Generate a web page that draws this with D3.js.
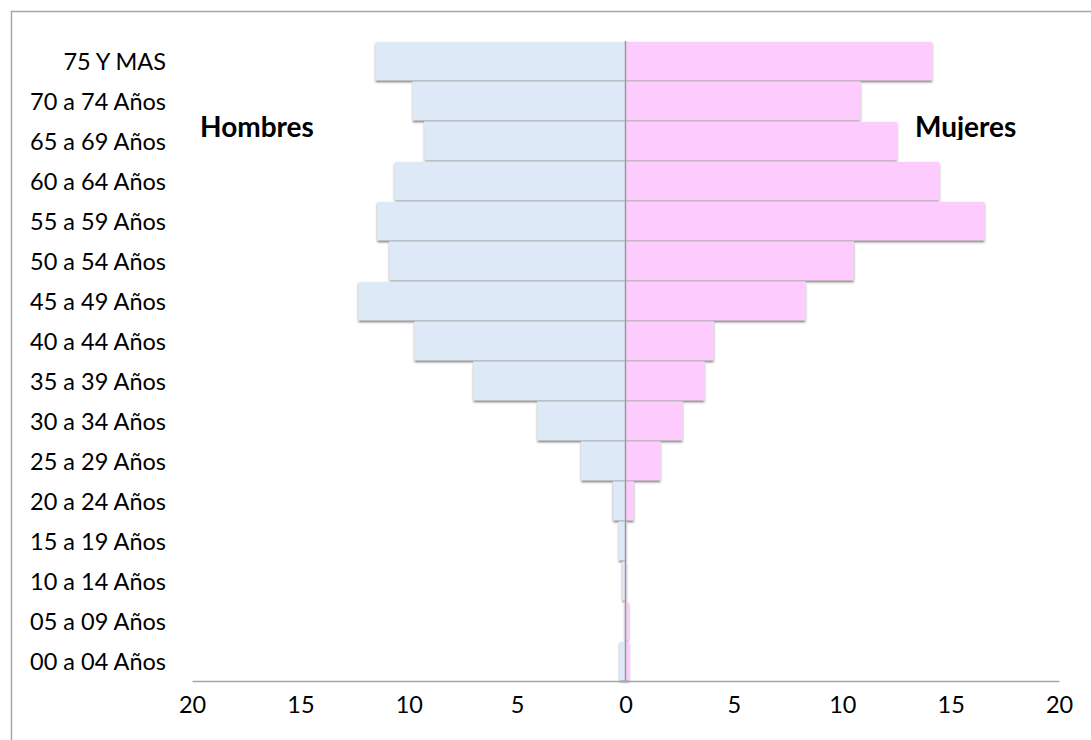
<!DOCTYPE html>
<html>
<head>
<meta charset="utf-8">
<script src="https://cdn.jsdelivr.net/npm/d3@7/dist/d3.min.js"></script>
<style>
  html, body { margin: 0; padding: 0; background: #fff; }
  svg { display: block; }
  text { font-family: Lato, "Open Sans", sans-serif; fill: #000; }
</style>
</head>
<body>
<svg id="chart" width="1091" height="740"></svg>
<script>
const categories = ["75 Y MAS","70 a 74 Años","65 a 69 Años","60 a 64 Años","55 a 59 Años","50 a 54 Años","45 a 49 Años","40 a 44 Años","35 a 39 Años","30 a 34 Años","25 a 29 Años","20 a 24 Años","15 a 19 Años","10 a 14 Años","05 a 09 Años","00 a 04 Años"];
const hombres = [11.53, 9.81, 9.27, 10.65, 11.45, 10.89, 12.32, 9.73, 7.01, 4.06, 2.04, 0.57, 0.31, 0.14, 0.03, 0.27];
const mujeres = [14.15, 10.84, 12.53, 14.48, 16.56, 10.53, 8.30, 4.07, 3.64, 2.63, 1.61, 0.38, 0.03, 0.04, 0.14, 0.17];
const xTicks = [-20, -15, -10, -5, 0, 5, 10, 15, 20];
const seriesNames = ["Hombres", "Mujeres"];

const svg = d3.select("#chart");

const defs = svg.append("defs");
const f = defs.append("filter").attr("id", "shadow")
  .attr("x", "-20%").attr("y", "-20%").attr("width", "140%").attr("height", "160%");
f.append("feDropShadow").attr("dx", 0).attr("dy", 2).attr("stdDeviation", 1.3)
  .attr("flood-color", "#000").attr("flood-opacity", 0.5);
defs.append("clipPath").attr("id", "mujClip")
  .append("rect").attr("x", 880).attr("y", 100).attr("width", 200).attr("height", 40);

// frame
svg.append("rect").attr("x", 11.5).attr("y", 11.5).attr("width", 1100).attr("height", 760)
  .attr("fill", "none").attr("stroke", "#a6a6a6").attr("stroke-width", 1.5);

const x = d3.scaleLinear().domain([-20, 20]).range([192, 1059]);
const y = d3.scaleBand().domain(categories).range([41, 681]).paddingInner(0.04).paddingOuter(0.02);

const data = categories.map((c, i) => ({ c, h: hombres[i], m: mujeres[i] }));

const bars = svg.append("g").attr("filter", "url(#shadow)");
bars.selectAll("rect.h").data(data).join("rect").attr("class", "h")
  .attr("x", d => x(-d.h)).attr("width", d => x(0) - x(-d.h))
  .attr("y", d => y(d.c)).attr("height", y.bandwidth())
  .attr("fill", "#dde9f6");
bars.selectAll("rect.m").data(data).join("rect").attr("class", "m")
  .attr("x", x(0)).attr("width", d => x(d.m) - x(0))
  .attr("y", d => y(d.c)).attr("height", y.bandwidth())
  .attr("fill", "#fdcbfd");

// zero line
svg.append("line").attr("x1", x(0)).attr("x2", x(0)).attr("y1", 41).attr("y2", 681)
  .attr("stroke", "#9a9a9a").attr("stroke-width", 1.5);

// category labels
svg.append("g").selectAll("text").data(categories).join("text")
  .attr("x", 166).attr("y", d => y(d) + y.bandwidth() / 2)
  .attr("text-anchor", "end").attr("dominant-baseline", "central")
  .attr("font-size", 23.5).text(d => d);

// x axis
const xAxis = d3.axisBottom(x).tickValues(xTicks).tickSize(0).tickPadding(15)
  .tickFormat(d => Math.abs(d));
const gx = svg.append("g").attr("transform", "translate(0,681)").call(xAxis);
gx.select(".domain").attr("stroke", "#a6a6a6").attr("stroke-width", 1.5);
gx.selectAll("text").attr("font-size", 23.5).attr("font-family", "Lato, sans-serif").attr("fill", "#000");

// series labels
svg.append("text").attr("x", 200).attr("y", 137).attr("font-size", 28).attr("font-weight", "bold")
  .text(seriesNames[0]);
svg.append("text").attr("x", 915).attr("y", 137).attr("font-size", 28).attr("font-weight", "bold")
  .attr("clip-path", "url(#mujClip)").text(seriesNames[1]);
</script>
</body>
</html>
